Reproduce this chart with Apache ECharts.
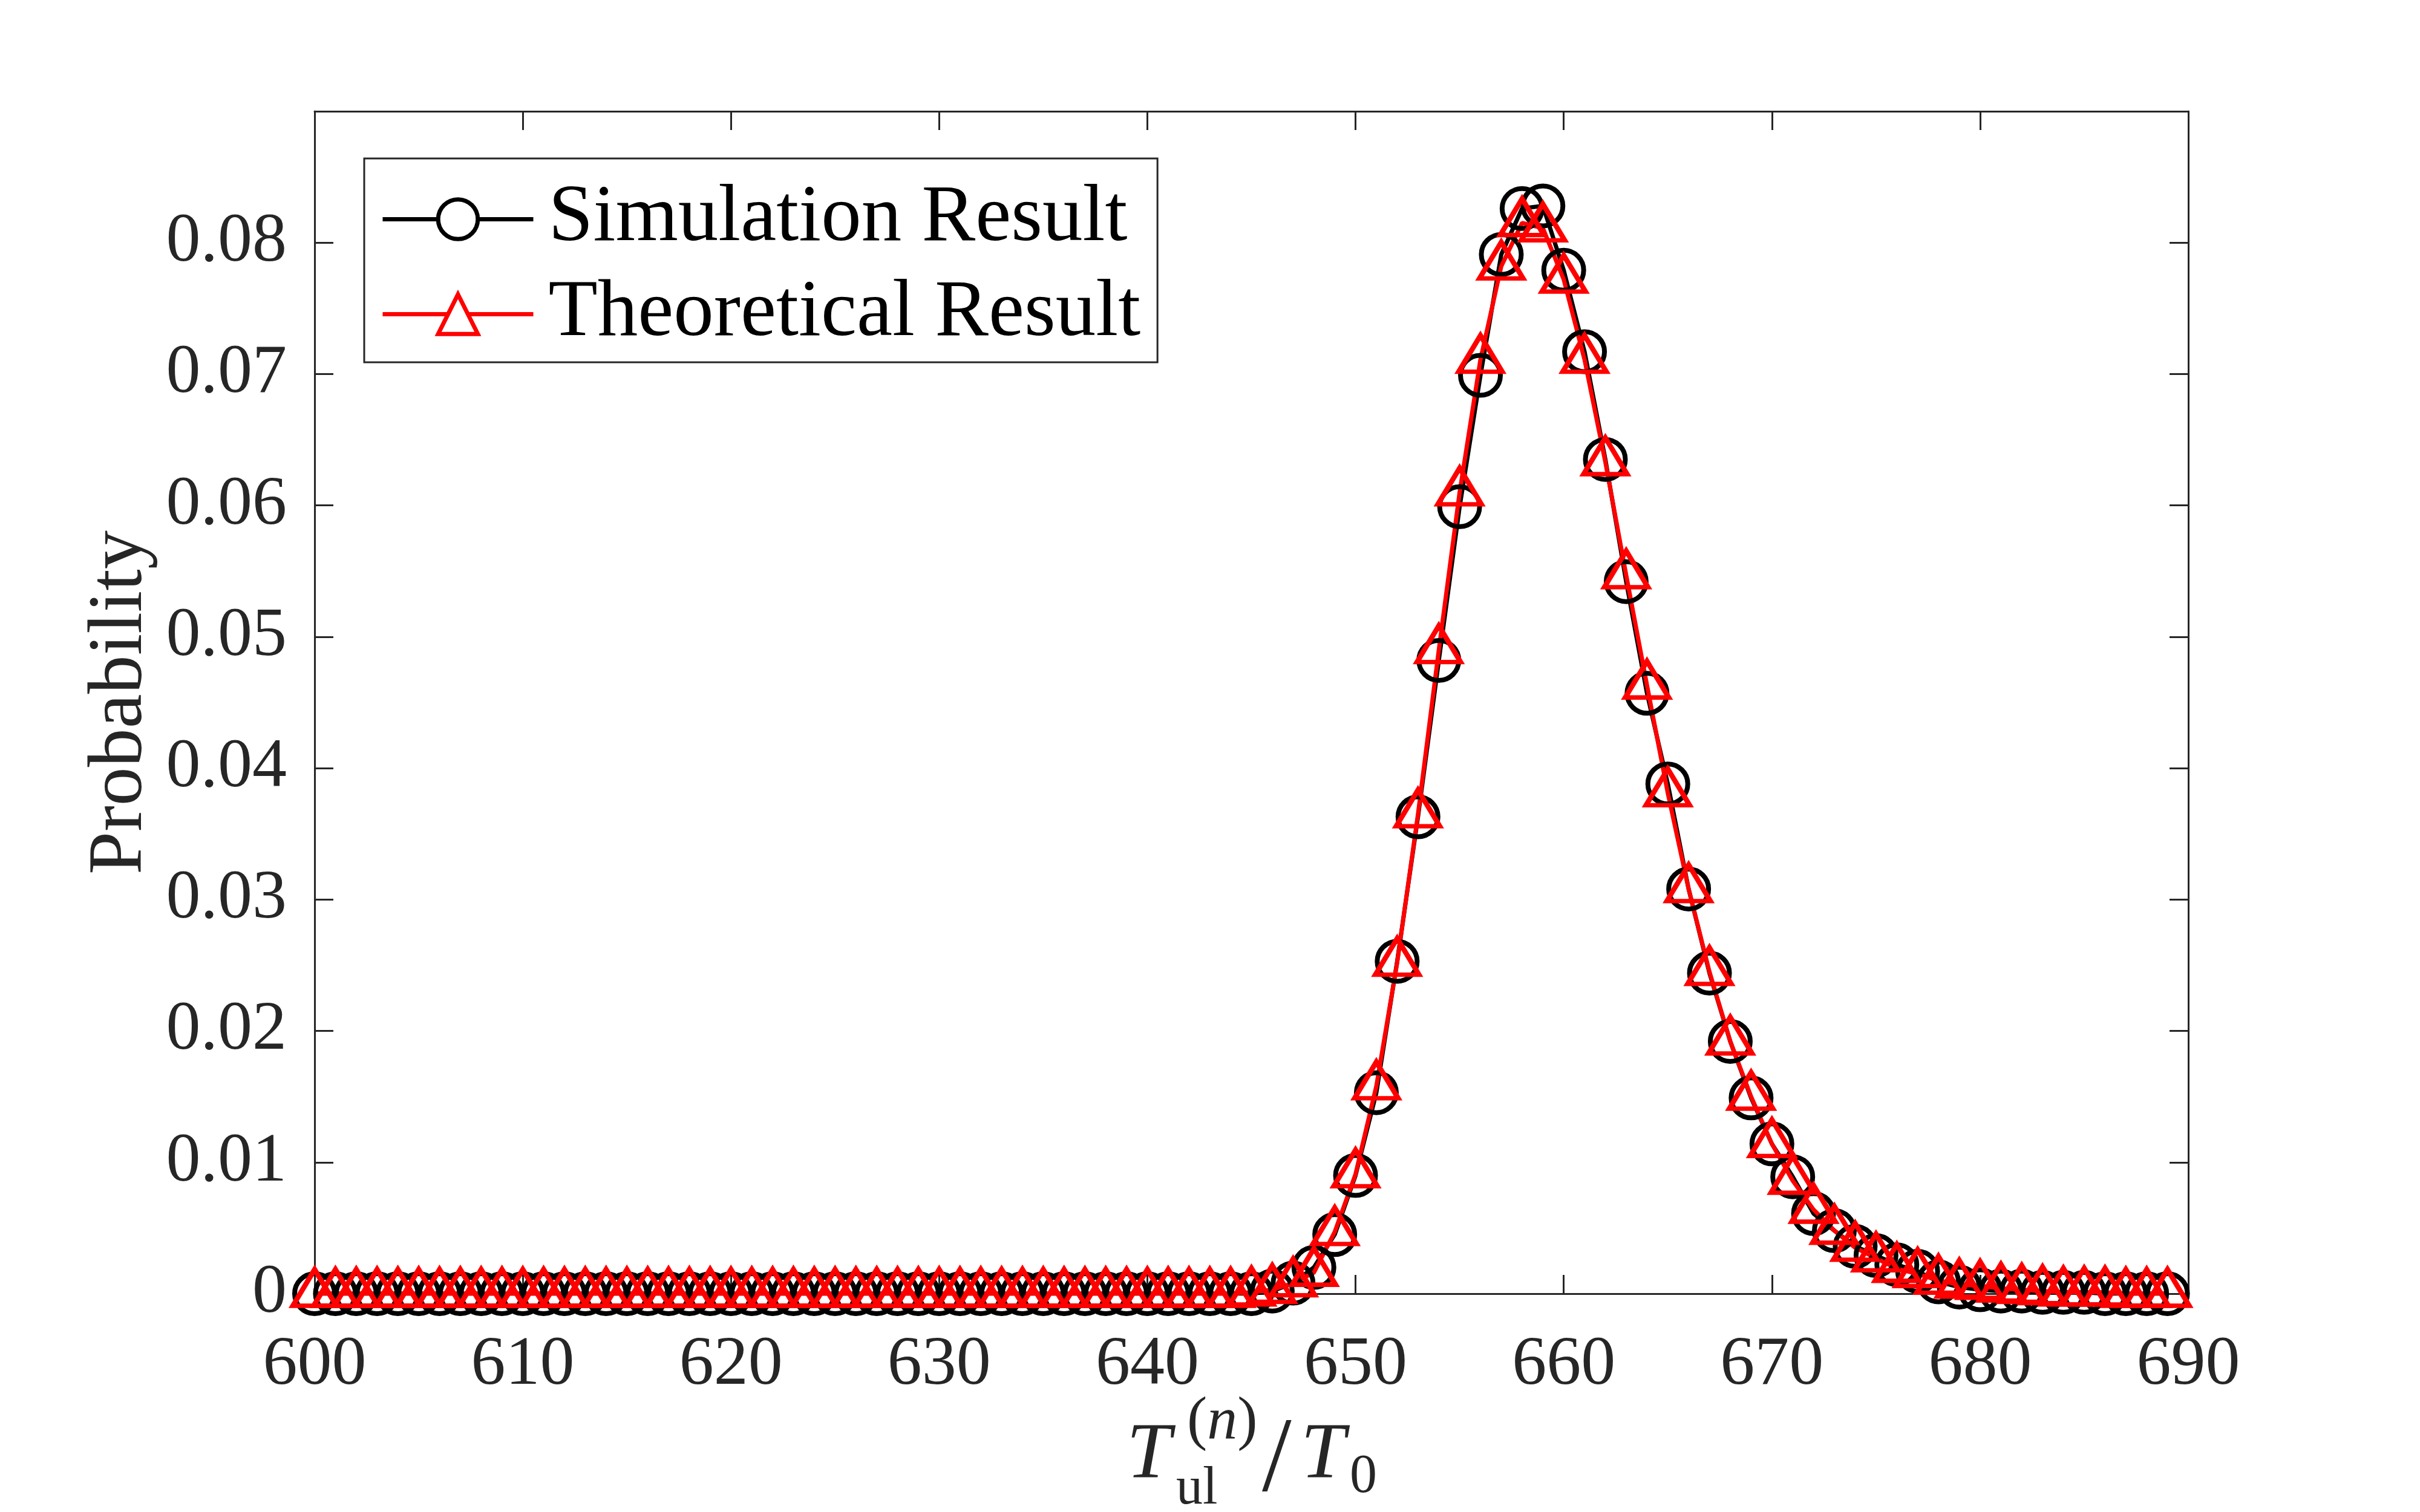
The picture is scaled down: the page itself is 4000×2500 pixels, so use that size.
<!DOCTYPE html>
<html lang="en">
<head>
<meta charset="UTF-8">
<title>Probability</title>
<script src="https://cdn.jsdelivr.net/npm/echarts@6/dist/echarts.min.js"></script>
<style>html,body{margin:0;padding:0;background:#fff;}</style>
</head>
<body>
<div id="chart1" style="width:4000px;height:2500px;"></div>
<script type="text/javascript">
  // x positions (T_ul / T0)
  var xValues = [
    600, 601, 602, 603, 604, 605, 606, 607, 608, 609,
    610, 611, 612, 613, 614, 615, 616, 617, 618, 619,
    620, 621, 622, 623, 624, 625, 626, 627, 628, 629,
    630, 631, 632, 633, 634, 635, 636, 637, 638, 639,
    640, 641, 642, 643, 644, 645, 646, 647, 648, 649,
    650, 651, 652, 653, 654, 655, 656, 657, 658, 659,
    660, 661, 662, 663, 664, 665, 666, 667, 668, 669,
    670, 671, 672, 673, 674, 675, 676, 677, 678, 679,
    680, 681, 682, 683, 684, 685, 686, 687, 688, 689
  ];
  // simulation result (circles)
  var simValues = [
    0, 0, 0, 0, 0, 0, 0, 0, 0, 0,
    0, 0, 0, 0, 0, 0, 0, 0, 0, 0,
    0, 0, 0, 0, 0, 0, 0, 0, 0, 0,
    0, 0, 0, 0, 0, 0, 0, 0, 0, 0,
    0, 0, 0, 0, 0, 0, 0.0002, 0.0008, 0.0020, 0.0045,
    0.0090, 0.0153, 0.0253, 0.0363, 0.0482, 0.0599, 0.0699, 0.0791, 0.0826, 0.0828,
    0.0779, 0.0717, 0.0635, 0.0542, 0.0457, 0.0388, 0.0308, 0.0244, 0.0192, 0.0149,
    0.0114, 0.0089, 0.0061, 0.0048, 0.0036, 0.0029, 0.0022, 0.0017, 0.0009, 0.0005,
    0.0003, 0.0002, 0.0002, 0.0001, 0.0001, 0.0001, 0, 0, 0, 0
  ];
  // theoretical result (triangles)
  var theoValues = [
    0, 0, 0, 0, 0, 0, 0, 0, 0, 0,
    0, 0, 0, 0, 0, 0, 0, 0, 0, 0,
    0, 0, 0, 0, 0, 0, 0, 0, 0, 0,
    0, 0, 0, 0, 0, 0, 0, 0, 0, 0,
    0, 0, 0, 0, 0, 0.0001, 0.0003, 0.0008, 0.0016, 0.0047,
    0.0091, 0.0158, 0.0252, 0.0365, 0.0490, 0.0610, 0.0711, 0.0782, 0.0815, 0.0811,
    0.0772, 0.0711, 0.0633, 0.0547, 0.0463, 0.0381, 0.0308, 0.0245, 0.0192, 0.0150,
    0.0114, 0.0086, 0.0064, 0.0048, 0.0035, 0.0027, 0.0019, 0.0015, 0.0010, 0.0007,
    0.0006, 0.0004, 0.0003, 0.0002, 0.0001, 0.0001, 0.0001, 0, 0, 0
  ];
  // axis ticks
  var xTickRange = [600, 690, 10];
  var yTickRange = [0, 0.09, 0.01];
  var yHiddenLabels = [0.09];

  var serif = '"Liberation Serif", "Times New Roman", serif';
  var axisColor = '#262626';

  var simData = xValues.map(function (x, i) { return [x, simValues[i]]; });
  var theoData = xValues.map(function (x, i) { return [x, theoValues[i]]; });

  function boxAxis(pos, showLabel, range) {
    var ax = {
      type: 'value',
      position: pos,
      min: range[0],
      max: range[1],
      interval: range[2],
      axisLine: { show: true, onZero: false, lineStyle: { color: axisColor, width: 3 } },
      axisTick: { show: true, inside: true, length: 31, lineStyle: { color: axisColor, width: 3 } },
      splitLine: { show: false },
      axisLabel: { show: showLabel, fontFamily: serif, fontSize: 114, color: axisColor }
    };
    return ax;
  }

  var xBottom = boxAxis('bottom', true, xTickRange);
  xBottom.axisLabel.margin = 62;
  var xTop = boxAxis('top', false, xTickRange);

  var yLeft = boxAxis('left', true, yTickRange);
  yLeft.axisLabel.margin = 46;
  yLeft.axisLabel.formatter = function (v) {
    for (var k = 0; k < yHiddenLabels.length; k++) {
      if (Math.abs(v - yHiddenLabels[k]) < 1e-9) return '';
    }
    return v === 0 ? '0' : v.toFixed(2);
  };
  yLeft.name = 'Probability';
  yLeft.nameLocation = 'middle';
  yLeft.nameGap = 250;
  yLeft.nameTextStyle = { fontFamily: serif, fontSize: 128, color: axisColor };
  var yRight = boxAxis('right', false, yTickRange);

  var myChart1 = echarts.init(document.getElementById('chart1'));
  myChart1.setOption({
    backgroundColor: '#fff',
    animation: false,
    grid: { left: 520, right: 383, top: 184, bottom: 361, containLabel: false, outerBoundsMode: 'none' },
    xAxis: [xBottom, xTop],
    yAxis: [yLeft, yRight],
    legend: {
      left: 602,
      top: 262,
      orient: 'vertical',
      itemWidth: 249,
      itemHeight: 82,
      itemGap: 24,
      padding: [34, 28, 13, 27],
      borderColor: axisColor,
      borderWidth: 3,
      borderRadius: 0,
      backgroundColor: '#fff',
      itemStyle: { color: '#fff', borderWidth: 7 },
      lineStyle: { width: 7 },
      textStyle: { fontFamily: serif, fontSize: 133, color: '#000', padding: [0, 0, 0, 20] },
      data: ['Simulation Result', 'Theoretical Result']
    },
    graphic: {
      elements: [
        { type: 'text', x: 1862, y: 2408, silent: true,
          style: { text: 'T', fontFamily: serif, fontStyle: 'italic', fontSize: 132, fill: axisColor, verticalAlign: 'middle' } },
        { type: 'text', x: 1962, y: 2352, silent: true,
          style: { text: '{p|(}{i|n}{p|)}', fill: axisColor, verticalAlign: 'middle',
            rich: { p: { fontFamily: serif, fontSize: 100, color: axisColor },
                    i: { fontFamily: serif, fontSize: 100, fontStyle: 'italic', color: axisColor } } } },
        { type: 'text', x: 1944, y: 2463, silent: true,
          style: { text: 'ul', fontFamily: serif, fontSize: 88, fill: axisColor, verticalAlign: 'middle' } },
        { type: 'text', x: 2086, y: 2418, silent: true,
          style: { text: '/', fontFamily: serif, fontSize: 175, fill: axisColor, verticalAlign: 'middle' } },
        { type: 'text', x: 2150, y: 2408, silent: true,
          style: { text: 'T', fontFamily: serif, fontStyle: 'italic', fontSize: 132, fill: axisColor, verticalAlign: 'middle' } },
        { type: 'text', x: 2231, y: 2443, silent: true,
          style: { text: '0', fontFamily: serif, fontSize: 90, fill: axisColor, verticalAlign: 'middle' } }
      ]
    },
    series: [
      {
        name: 'Simulation Result',
        type: 'line',
        data: simData,
        symbol: 'circle',
        symbolSize: 66,
        itemStyle: { color: 'rgba(0,0,0,0)', borderColor: '#000', borderWidth: 8 },
        lineStyle: { color: '#000', width: 7 },
        emphasis: { disabled: true }
      },
      {
        name: 'Theoretical Result',
        type: 'line',
        data: theoData,
        symbol: 'triangle',
        symbolSize: [72, 60],
        symbolOffset: [0, -10],
        itemStyle: { color: 'rgba(0,0,0,0)', borderColor: '#ff0000', borderWidth: 8 },
        lineStyle: { color: '#ff0000', width: 7 },
        emphasis: { disabled: true }
      }
    ]
  });
</script>
</body>
</html>
